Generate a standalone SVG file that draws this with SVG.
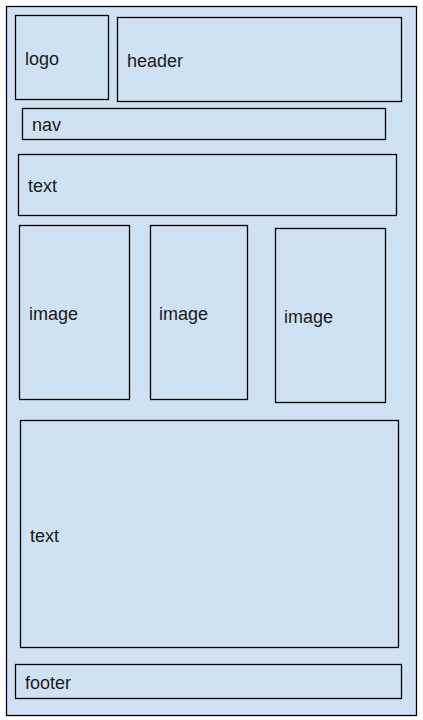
<svg xmlns="http://www.w3.org/2000/svg" width="423" height="720" viewBox="0 0 423 720">
<style>
.box{fill:#cfe2f3;stroke:#000;stroke-width:1.3}
.lbl{font-family:"Liberation Sans",Arial,sans-serif;font-size:18px;fill:#1a1a1a}
</style>
<rect width="423" height="720" fill="#fff"/>
<g id="page"><rect class="box" x="6.5" y="6.5" width="410" height="709"/></g>
<g id="logo"><rect class="box" x="15.5" y="15.5" width="93" height="84"/><text class="lbl" x="25" y="64.5">logo</text></g>
<g id="header"><rect class="box" x="117.5" y="17.5" width="284" height="84"/><text class="lbl" x="127" y="67">header</text></g>
<g id="nav"><rect class="box" x="22.5" y="108.5" width="363" height="31"/><text class="lbl" x="32" y="130.5">nav</text></g>
<g id="text1"><rect class="box" x="18.5" y="154.5" width="378" height="61"/><text class="lbl" x="28" y="192">text</text></g>
<g id="image1"><rect class="box" x="19.5" y="225.5" width="110" height="174"/><text class="lbl" x="29" y="319.5">image</text></g>
<g id="image2"><rect class="box" x="150.5" y="225.5" width="97" height="174"/><text class="lbl" x="159" y="319.5">image</text></g>
<g id="image3"><rect class="box" x="275.5" y="228.5" width="110" height="174"/><text class="lbl" x="284" y="322.5">image</text></g>
<g id="text2"><rect class="box" x="20.5" y="420.5" width="378" height="227"/><text class="lbl" x="30" y="541.5">text</text></g>
<g id="footer"><rect class="box" x="15.5" y="664.5" width="386" height="34"/><text class="lbl" x="25" y="688.5">footer</text></g>
<g id="connectors"/>
</svg>
